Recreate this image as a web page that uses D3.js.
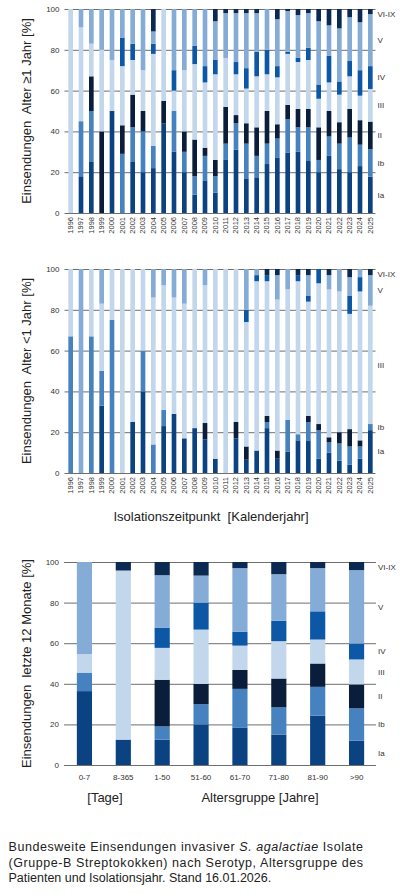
<!DOCTYPE html>
<html lang="de">
<head>
<meta charset="UTF-8">
<title>GBS Serotypen</title>
<style>
    body { margin: 0; background: #fff; }
    text { font-family: "Liberation Sans", Arial, sans-serif; }
</style>
</head>
<body>
<div id="chart"></div>
<script src="https://cdn.jsdelivr.net/npm/d3@7/dist/d3.min.js"></script>
<script>
    const serotypes = ["Ia", "Ib", "II", "III", "IV", "V", "VI-IX"];
    const colors = ["#0b4282", "#4682bf", "#0a1e3c", "#c3d7ec", "#0c57a6", "#85acd6", "#0b2a52"];
    const yTicks = [0, 20, 40, 60, 80, 100];

    const years = [1996, 1997, 1998, 1999, 2000, 2001, 2002, 2003, 2004, 2005,
        2006, 2007, 2008, 2009, 2010, 2011, 2012, 2013, 2014, 2015,
        2016, 2017, 2018, 2019, 2020, 2021, 2022, 2023, 2024, 2025];
    const ageGroups = ["0-7", "8-365", "1-50", "51-60", "61-70", "71-80", "81-90", ">90"];

    // Alter >= 1 Jahr, Anteil je Serotyp [%]
    const adultIa = [0, 18, 25, 0, 50, 0, 25, 20, 22, 44, 30, 20, 9, 16, 10, 26, 31, 17, 17.5, 24,
        27, 29.5, 30, 25.5, 20, 28, 21.5, 20, 23, 17.8];
    const adultIb = [0, 27, 25, 0, 0, 29, 17, 20, 11, 0, 20, 10, 9, 12, 8, 8, 13, 17, 10.5, 10,
        9.5, 16.5, 12, 16.5, 6, 9.5, 12.5, 17, 10.5, 13.5];
    const adultII = [0, 0, 17, 40, 0, 14, 16, 10, 0, 11, 0, 10, 18, 4, 8, 18, 4, 10, 14, 16,
        7, 7, 9, 9, 16, 12.5, 10.5, 14, 12, 13.5];
    const adultIII = [100, 46, 16, 40, 25, 29, 17, 20, 45, 45, 10, 30, 37, 32, 42, 24, 20, 17, 25, 18,
        23, 25, 23, 24, 14, 14, 13.5, 16, 12, 16];
    const adultIV = [0, 0, 0, 0, 0, 14, 8, 0, 5, 0, 10, 0, 9, 8, 7, 0, 6, 10, 12, 12,
        5.5, 1, 2, 6, 7, 13, 6.5, 7.5, 12.5, 11.2];
    const adultV = [0, 9, 17, 20, 25, 14, 17, 30, 6, 0, 30, 30, 18, 28, 19, 22, 24, 27, 19, 20,
        23, 20, 21, 17, 31, 15, 26, 21.5, 23.5, 25.5];
    const adultVI = [0, 0, 0, 0, 0, 0, 0, 0, 11, 0, 0, 0, 0, 0, 6, 2, 2, 2, 2, 0,
        5, 1, 3, 2, 6, 8, 9.5, 4, 6.5, 2.5];

    // Alter < 1 Jahr, Anteil je Serotyp [%]
    const infantIa = [0, 0, 0, 33, 0, 0, 25, 40, 0, 23, 29, 17, 22, 16.5, 7, 0, 17, 6.5, 11, 22,
        7, 10.5, 16, 16, 7, 10, 6, 4, 7, 21];
    const infantIb = [67, 0, 67, 17, 75, 0, 0, 20, 14, 8, 0, 0, 0, 0, 0, 0, 0, 0, 0, 3,
        0, 15.5, 3, 9, 14, 5, 8.5, 9, 6, 3];
    const infantII = [0, 0, 0, 0, 0, 0, 0, 0, 0, 0, 0, 0, 0, 8, 0, 0, 8, 6.5, 0, 3,
        4, 0, 0, 3, 3, 2.5, 5.5, 8.5, 3, 0];
    const infantIII = [33, 0, 33, 33, 25, 100, 75, 40, 72, 61, 57, 66, 78, 67.5, 93, 100, 75, 61, 83, 66,
        74, 64, 75, 56, 69, 72.5, 69, 56.5, 73, 58];
    const infantIV = [0, 0, 0, 0, 0, 0, 0, 0, 0, 0, 0, 0, 0, 0, 0, 0, 0, 6, 3, 3,
        0, 0, 3, 3, 7, 0, 0, 9, 7, 0];
    const infantV = [0, 100, 0, 17, 0, 0, 0, 0, 14, 8, 14, 17, 0, 8, 0, 0, 0, 20, 3, 0,
        12, 10, 0, 10, 0, 7, 11, 9, 4, 15];
    const infantVI = [0, 0, 0, 0, 0, 0, 0, 0, 0, 0, 0, 0, 0, 0, 0, 0, 0, 0, 0, 3,
        3, 0, 3, 3, 0, 3, 0, 4, 0, 3];

    // letzte 12 Monate nach Altersgruppe [%]
    const recentIa = [36.4, 12.5, 12.5, 20, 18.5, 15, 24.3, 12];
    const recentIb = [9.1, 0, 6.5, 10, 19, 13.4, 14.2, 15.9];
    const recentII = [0, 0, 23, 10, 9.3, 14.2, 11.5, 11.8];
    const recentIII = [9.1, 83.3, 15.7, 26.7, 12, 18.4, 11.8, 12.3];
    const recentIV = [0, 0, 10, 13.3, 6.9, 10, 13.9, 7.8];
    const recentV = [45.4, 0, 25.8, 13.3, 31.3, 23, 21.3, 36.2];
    const recentVI = [0, 4.2, 6.5, 6.7, 3, 6, 3, 4];

    const W = 400, H = 895;

    let svg = d3.select("#chart")
        .append("svg")
        .attr("width", W)
        .attr("height", H)
        .style("display", "block");

    function buildTable(cats, series) {
        return cats.map((c, i) => {
            let row = {cat: c};
            serotypes.forEach((s, j) => row[s] = series[j][i]);
            return row;
        });
    }

    function drawChart(cfg) {
        let table = buildTable(cfg.cats, cfg.series);
        let stacked = d3.stack().keys(serotypes)(table);

        let x = d3.scaleBand()
            .domain(cfg.cats)
            .range([cfg.left, cfg.right])
            .paddingInner(cfg.padding)
            .paddingOuter(cfg.padding / 2);

        let y = d3.scaleLinear()
            .domain([0, 100])
            .range([cfg.bottom, cfg.top]);

        let g = svg.append("g");

        // Gitterlinien
        g.append("g")
            .attr("transform", `translate(${cfg.left - 1}, 0)`)
            .call(d3.axisLeft(y).tickValues(yTicks).tickSize(-(cfg.right - cfg.left + 1)).tickFormat(""))
            .call(a => a.select(".domain").remove())
            .call(a => a.selectAll(".tick line").attr("stroke", "#6e6e6e").attr("stroke-width", 1));

        // Y-Beschriftung
        g.append("g")
            .attr("transform", `translate(${cfg.left - 6}, 0)`)
            .call(d3.axisLeft(y).tickValues(yTicks).tickSize(0))
            .call(a => a.select(".domain").remove())
            .call(a => a.selectAll(".tick text")
                .attr("x", 0)
                .style("font-family", "Liberation Sans, Arial, sans-serif")
                .style("font-size", "8px")
                .attr("fill", "#333"));

        // Balken
        g.append("g")
            .selectAll("g")
            .data(stacked)
            .join("g")
            .attr("fill", (d, i) => colors[i])
            .selectAll("rect")
            .data(d => d.filter(p => p[1] - p[0] > 0))
            .join("rect")
            .attr("x", d => x(d.data.cat))
            .attr("width", x.bandwidth())
            .attr("y", d => y(d[1]))
            .attr("height", d => y(d[0]) - y(d[1]));

        // X-Beschriftung
        let xa = g.append("g")
            .attr("transform", `translate(0, ${cfg.bottom})`)
            .call(d3.axisBottom(x).tickSize(0))
            .call(a => a.select(".domain").remove());
        xa.selectAll(".tick text")
            .style("font-family", "Liberation Sans, Arial, sans-serif")
            .attr("fill", "#333");
        if (cfg.rotate) {
            xa.selectAll(".tick text")
                .style("font-size", "7.5px")
                .attr("text-anchor", "end")
                .attr("transform", "rotate(-90)")
                .attr("x", -4)
                .attr("y", 0)
                .attr("dy", "0.33em");
        } else {
            xa.selectAll(".tick text")
                .style("font-size", "8px")
                .attr("y", 9);
        }

        // Serotyp-Beschriftung rechts, Mitte des Segments im letzten Balken
        let last = table[table.length - 1];
        let cum = 0;
        serotypes.forEach(s => {
            let v = last[s];
            let mid = cum + v / 2;
            cum += v;
            if (v <= 0) return;
            let yy = Math.max(y(mid), cfg.top + 5);
            g.append("text")
                .attr("x", cfg.right + 2)
                .attr("y", yy)
                .attr("dy", "0.35em")
                .style("font-size", "8px")
                .attr("fill", "#333")
                .text(s);
        });

        // Achsentitel
        g.append("text")
            .attr("transform", `translate(${cfg.titleX}, ${(cfg.top + cfg.bottom) / 2}) rotate(-90)`)
            .attr("text-anchor", "middle")
            .style("font-size", "13px")
            .style("white-space", "pre")
            .attr("fill", "#222")
            .text(cfg.title);

        return g;
    }

    drawChart({
        cats: years,
        series: [adultIa, adultIb, adultII, adultIII, adultIV, adultV, adultVI],
        left: 65.5, right: 375.5, top: 9, bottom: 213, padding: 0.55,
        rotate: true, titleX: 31,
        title: "Einsendungen  Alter \u22651 Jahr [%]"
    });

    let g2 = drawChart({
        cats: years,
        series: [infantIa, infantIb, infantII, infantIII, infantIV, infantV, infantVI],
        left: 65.5, right: 375.5, top: 269, bottom: 473, padding: 0.55,
        rotate: true, titleX: 31,
        title: "Einsendungen  Alter <1 Jahr [%]"
    });

    g2.append("text")
        .attr("x", 211)
        .attr("y", 521)
        .attr("text-anchor", "middle")
        .style("font-size", "13px")
        .style("white-space", "pre")
        .attr("fill", "#222")
        .text("Isolationszeitpunkt  [Kalenderjahr]");

    let g3 = drawChart({
        cats: ageGroups,
        series: [recentIa, recentIb, recentII, recentIII, recentIV, recentV, recentVI],
        left: 65, right: 376, top: 562, bottom: 765, padding: 0.61,
        rotate: false, titleX: 31,
        title: "Einsendungen  letzte 12 Monate [%]"
    });

    g3.append("text")
        .attr("x", 105)
        .attr("y", 802)
        .attr("text-anchor", "middle")
        .style("font-size", "13px")
        .attr("fill", "#222")
        .text("[Tage]");

    g3.append("text")
        .attr("x", 260)
        .attr("y", 802)
        .attr("text-anchor", "middle")
        .style("font-size", "13px")
        .attr("fill", "#222")
        .text("Altersgruppe [Jahre]");

    // Bildunterschrift
    let cap = svg.append("g").style("font-size", "12.5px").attr("fill", "#222");
    let l1 = cap.append("text").attr("x", 8.5).attr("y", 851)
        .attr("textLength", 354.5).attr("lengthAdjust", "spacing");
    l1.append("tspan").text("Bundesweite Einsendungen invasiver ");
    l1.append("tspan").style("font-style", "italic").text("S. agalactiae");
    l1.append("tspan").text(" Isolate");
    cap.append("text").attr("x", 8.5).attr("y", 867)
        .attr("textLength", 354.5).attr("lengthAdjust", "spacing")
        .text("(Gruppe-B Streptokokken) nach Serotyp, Altersgruppe des");
    cap.append("text").attr("x", 8.5).attr("y", 882)
        .text("Patienten und Isolationsjahr. Stand 16.01.2026.");
</script>
</body>
</html>
